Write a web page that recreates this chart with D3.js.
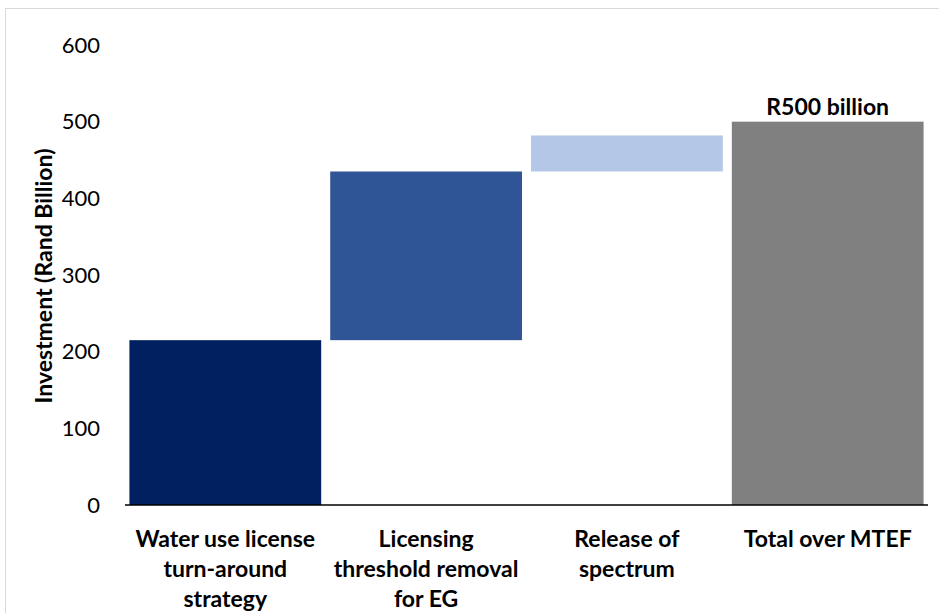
<!DOCTYPE html>
<html>
<head>
<meta charset="utf-8">
<script src="https://cdn.jsdelivr.net/npm/d3@7"></script>
<style>
  html, body { margin: 0; padding: 0; background: #fff; }
  svg text { font-family: Lato, "Open Sans", sans-serif; }
</style>
</head>
<body>
<svg id="chart" width="939" height="613"></svg>
<script>
// Waterfall of investment contributions (Rand billion)
const categories = [
  ["Water use license", "turn-around", "strategy"],
  ["Licensing", "threshold removal", "for EG"],
  ["Release of", "spectrum"],
  ["Total over MTEF"]
];
const increments = [215, 220, 47];
const total = 500;
const totalLabel = "R500 billion";
const yTicks = [0, 100, 200, 300, 400, 500, 600];
const colors = ["#002060", "#2F5597", "#B4C7E7", "#808080"];

// build stacked start/end values
let run = 0;
const bars = increments.map((v, i) => {
  const b = { i, start: run, end: run + v };
  run += v;
  return b;
});
bars.push({ i: 3, start: 0, end: total });

const svg = d3.select("#chart");
const W = 939, H = 613;

// outer frame
svg.append("rect")
  .attr("x", 5.5).attr("y", 8.5)
  .attr("width", W + 10).attr("height", H + 10)
  .attr("fill", "none").attr("stroke", "#d9d9d9").attr("stroke-width", 1);

const x = d3.scaleBand().domain(d3.range(categories.length))
  .range([125, 928]).paddingInner(0.045).paddingOuter(0.022);
const y = d3.scaleLinear().domain([0, 600]).range([505, 45]);

// y tick labels
const yAxis = d3.axisLeft(y).tickValues(yTicks).tickSize(0).tickPadding(0);
const gy = svg.append("g").attr("transform", "translate(100,0)").call(yAxis);
gy.select(".domain").remove();
gy.selectAll("text")
  .attr("font-size", 22).attr("fill", "#000")
  .style("font-family", "Lato, 'Open Sans', sans-serif");

// bars
svg.append("g").selectAll("rect").data(bars).join("rect")
  .attr("x", d => x(d.i))
  .attr("width", x.bandwidth())
  .attr("y", d => y(d.end))
  .attr("height", d => y(d.start) - y(d.end))
  .attr("fill", d => colors[d.i]);

// baseline
const gx = svg.append("g").attr("transform", `translate(0,${y(0)})`)
  .call(d3.axisBottom(x).tickSize(0).tickFormat(""));
gx.select(".domain").attr("stroke", "#000").attr("stroke-width", 1.5)
  .attr("d", `M125,0H928`);

// category labels
const lab = svg.append("g").selectAll("text").data(categories).join("text")
  .attr("text-anchor", "middle")
  .attr("font-size", 23).attr("font-weight", "bold").attr("fill", "#000")
  .attr("x", (d, i) => x(i) + x.bandwidth() / 2)
  .attr("y", 547);
lab.selectAll("tspan").data(d => d).join("tspan")
  .attr("x", function () { return d3.select(this.parentNode).attr("x"); })
  .attr("dy", (d, j) => j === 0 ? 0 : 30)
  .text(d => d);

// total label
svg.append("text")
  .attr("x", x(3) + x.bandwidth() / 2)
  .attr("y", y(total) - 7)
  .attr("text-anchor", "middle")
  .attr("font-size", 23).attr("font-weight", "bold").attr("fill", "#000")
  .text(totalLabel);

// y axis title
svg.append("text")
  .attr("transform", "translate(52,276) rotate(-90)")
  .attr("text-anchor", "middle")
  .attr("font-size", 23).attr("font-weight", "bold").attr("fill", "#000")
  .text("Investment (Rand Billion)");
</script>
</body>
</html>
